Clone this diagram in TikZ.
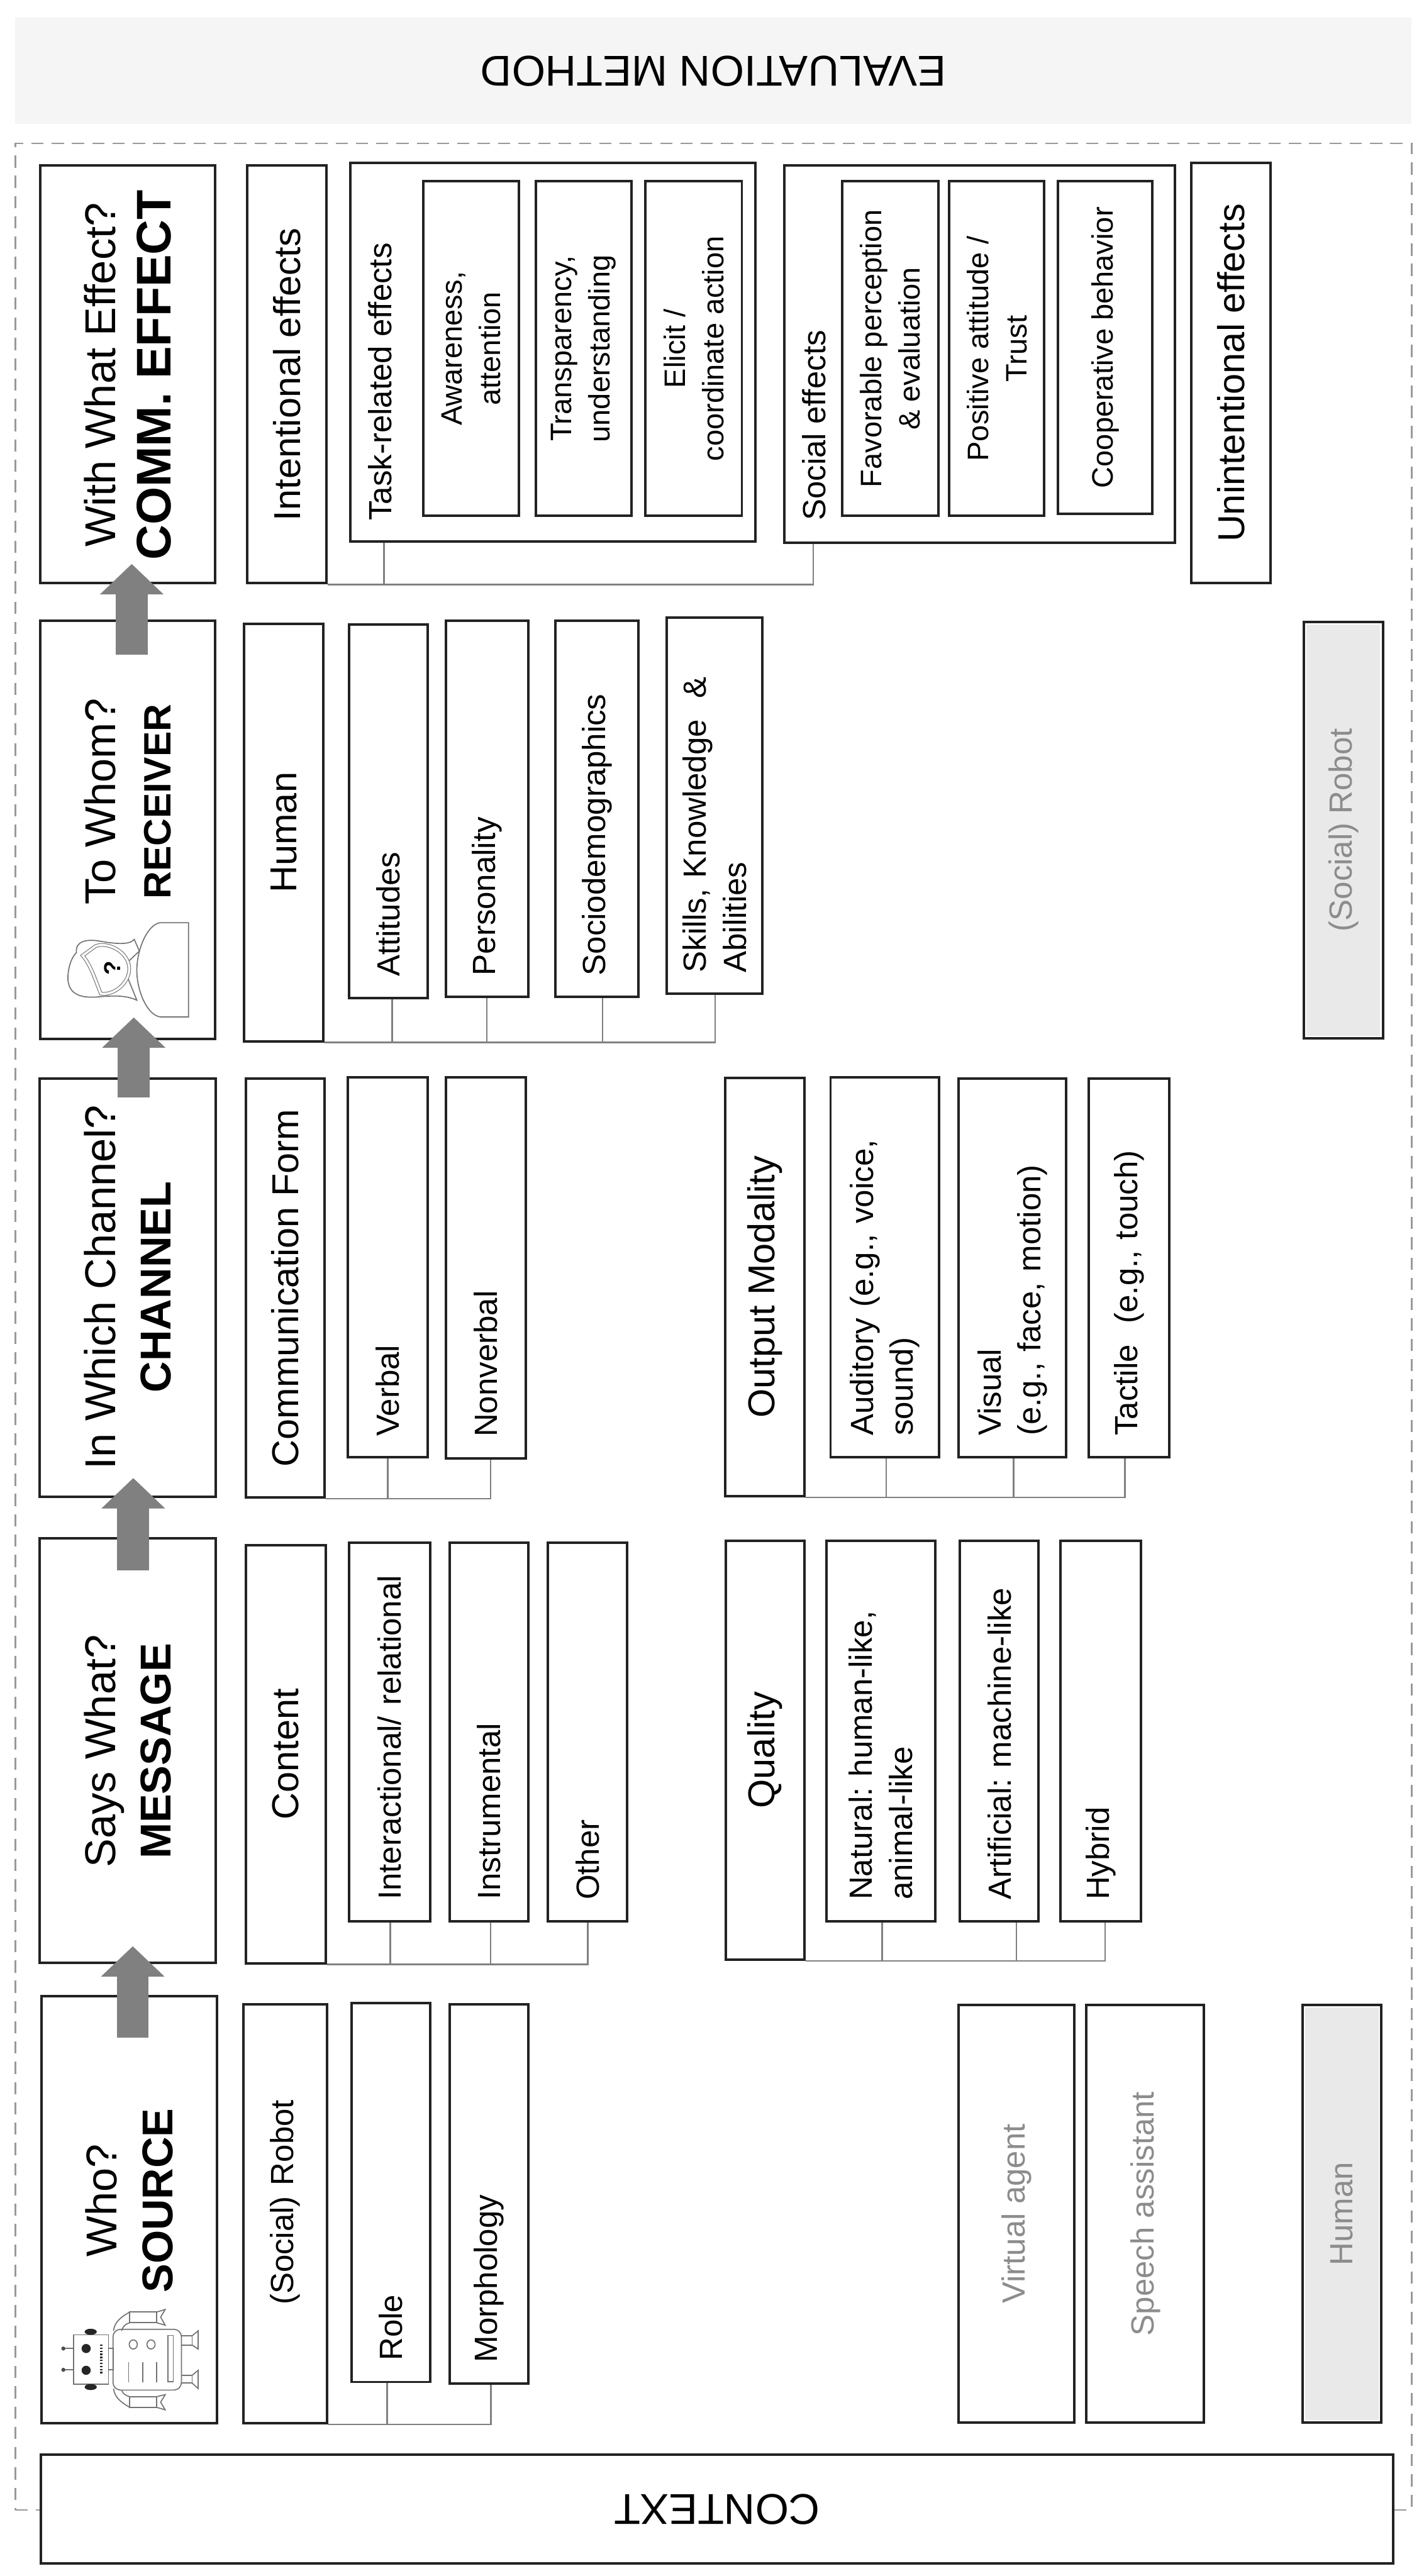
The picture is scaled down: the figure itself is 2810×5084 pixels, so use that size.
\documentclass[tikz,border=0pt]{standalone}
\usepackage{fontspec}
\setmainfont{Liberation Sans}
\frenchspacing
\usetikzlibrary{arrows.meta, calc}
\definecolor{linegray}{HTML}{808080}
\definecolor{dashgray}{HTML}{999999}
\definecolor{bandgray}{HTML}{F5F5F5}
\definecolor{ghostgray}{HTML}{E9E9E9}
\definecolor{ghosttext}{HTML}{8C8C8C}
\definecolor{boxline}{HTML}{222222}

\begin{document}
\begin{tikzpicture}[
    x=0.01cm, y=-0.01cm,
    box/.style={draw=boxline, line width=1.4pt, rotate=90, align=center, inner sep=0pt},
    head/.style 2 args={box, minimum width=#2*0.01cm, minimum height=#1*0.01cm},
    headtxt/.style={rotate=90, align=center, inner sep=0pt, font=\fontsize{24.2}{31.3}\selectfont},
    cat/.style 2 args={head={#1}{#2}, font=\fontsize{21}{25}\selectfont},
    eff/.style 2 args={head={#1}{#2}, font=\fontsize{16.6}{21.5}\selectfont},
    leaf/.style 2 args={box, minimum height=#1*0.01cm, text width=(#2-84)*0.01cm, inner xsep=0.42cm, align=left, font=\fontsize{18}{22.5}\selectfont},
    ghost/.style 2 args={head={#1}{#2}, text=ghosttext, font=\fontsize{18}{22.5}\selectfont},
    ghostfill/.style 2 args={ghost={#1}{#2}, fill=ghostgray, path picture={\draw[white, line width=3pt] (path picture bounding box.south west) rectangle (path picture bounding box.north east);}},
    lbl/.style={rotate=90, anchor=west, inner sep=0pt, font=\fontsize{18}{22.5}\selectfont},
    band/.style={rotate=180, font=\fontsize{24.2}{29}\selectfont},
    link/.style={draw=linegray, line width=0.85pt},
    blockarrow/.style={-{Triangle[length=0.6cm, width=1.22cm]}, draw=linegray, fill=linegray, line width=0.63cm},
    iconln/.style={draw=black!55, line width=0.6pt},
]
\useasboundingbox (0,0) rectangle (2810,5084);

% Outer frame and the two bands
\node[draw=dashgray, line width=0.85pt, dash pattern=on 0.24cm off 0.16cm, minimum width=27.54cm, minimum height=46.68cm, inner sep=0pt] (frame) at (1408,2618) {};
\node[band, fill=bandgray, minimum width=27.54cm, minimum height=2.1cm] (evalmethod) at (1408,140) {EVALUATION METHOD};
\node[band, draw=boxline, line width=1.4pt, fill=white, minimum width=26.68cm, minimum height=2.15cm] (context) at (1415,4952) {CONTEXT};

% Main chain
\node[head={346}{824}] (effect) at (252,739) {};
\node[headtxt] (effect_t) at (252,740) {With What Effect?\\{\bfseries\fontsize{27.3}{31.3}\selectfont COMM. EFFECT}};
\node[head={346}{826}] (receiver) at (252,1638) {};
\node[headtxt] (receiver_t) at (252,1582) {To Whom?\\{\bfseries\fontsize{21.4}{31.3}\selectfont RECEIVER}};
\node[head={347}{825}] (channel) at (252,2541) {};
\node[headtxt] (channel_t) at (252,2540) {In Which Channel?\\{\bfseries CHANNEL}};
\node[head={347}{837}] (message) at (252,3455) {};
\node[headtxt] (message_t) at (252,3456) {Says What?\\{\bfseries MESSAGE}};
\node[head={347}{843}] (source) at (255,4361) {};
\node[headtxt] (source_t) at (255,4343) {Who?\\{\bfseries SOURCE}};

% Comm. effect
\node[cat={157}{824}] (intent) at (566,739) {Intentional effects};
\node[box, minimum width=7.46cm, minimum height=7.98cm] (task) at (1091,695) {};
\node[lbl] (task_l) at (750,1028) {Task-related effects};
\node[eff={189}{660}] (aware) at (930,688) {Awareness,\\attention};
\node[eff={188}{660}] (transp) at (1152,688) {Transparency,\\understanding};
\node[eff={190}{660}] (elicit) at (1369,688) {Elicit /\\coordinate action};
\node[box, minimum width=7.44cm, minimum height=7.71cm] (social) at (1933,699) {};
\node[lbl] (social_l) at (1607,1028) {Social effects};
\node[eff={189}{660}] (favor) at (1757,688) {Favorable perception\\\& evaluation};
\node[eff={187}{660}] (posit) at (1967,688) {Positive attitude /\\Trust};
\node[eff={186}{657}] (coop) at (2181,686) {Cooperative behavior};
\node[cat={157}{829}] (unintent) at (2429,736) {Unintentional effects};

% Receiver
\node[cat={156}{824}] (human_r) at (560,1643) {Human};
\node[leaf={155}{737}] (attitudes) at (766,1601) {Attitudes};
\node[leaf={163}{743}] (personality) at (961,1596) {Personality};
\node[leaf={163}{743}] (socio) at (1178,1596) {Sociodemographics};
\node[leaf={189}{743}] (skills) at (1410,1590) {Skills, Knowledge \ \&\\Abilities};
\node[ghostfill={156}{822}] (robot_r) at (2651,1638) {(Social) Robot};

% Channel
\node[cat={156}{826}] (comform) at (563,2542) {Communication Form};
\node[leaf={158}{750}] (verbal) at (765,2501) {Verbal};
\node[leaf={158}{752}] (nonverbal) at (959,2502) {Nonverbal};
\node[cat={156}{825}] (output) at (1509,2540) {Output Modality};
\node[leaf={214}{749}] (auditory) at (1746,2501) {Auditory (e.g., voice,\\sound)};
\node[leaf={212}{747}] (visual) at (1998,2502) {Visual\\(e.g., face, motion)};
\node[leaf={159}{747}] (tactile) at (2228,2502) {Tactile \ (e.g., touch)};

% Message
\node[cat={158}{825}] (content) at (564,3462) {Content};
\node[leaf={160}{747}] (interact) at (769,3418) {Interactional/ relational};
\node[leaf={156}{747}] (instrum) at (965,3418) {Instrumental};
\node[leaf={156}{747}] (other) at (1159,3418) {Other};
\node[cat={156}{827}] (quality) at (1510,3454) {Quality};
\node[leaf={215}{751}] (natural) at (1738,3416) {Natural: human-like,\\animal-like};
\node[leaf={155}{751}] (artificial) at (1972,3416) {Artificial: machine-like};
\node[leaf={158}{751}] (hybrid) at (2172,3416) {Hybrid};

% Source
\node[leaf={166}{826}] (robot_s) at (563,4369) {\hspace*{1.91cm}(Social) Robot};
\node[leaf={155}{748}] (role) at (771,4327) {Role};
\node[leaf={156}{749}] (morph) at (965,4330) {Morphology};
\node[ghost={228}{824}] (virtual) at (2006,4369) {Virtual agent};
\node[ghost={232}{824}] (speech) at (2260,4369) {Speech assistant};
\node[ghostfill={156}{824}] (human_s) at (2648,4369) {Human};

% Links from a category to its items
\foreach \trunk/\item/\dx in {intent/task/-333, intent/social/-328,
    human_r/attitudes/8, human_r/personality/0, human_r/socio/11, human_r/skills/1,
    comform/verbal/0, comform/nonverbal/9,
    output/auditory/3, output/visual/2, output/tactile/-8,
    content/interact/1, content/instrum/3, content/other/1,
    quality/natural/3, quality/artificial/34, quality/hybrid/9,
    robot_s/role/-7, robot_s/morph/4} {
    \draw[link] (\trunk.south west) -| ([xshift=\dx*0.01cm]\item.west);
}

% Robot icon
\draw[iconln] (145,4608) rectangle (214,4705);
\draw[iconln] (214,4635) rectangle (223,4677);
\draw[iconln, rounded corners=0.15cm] (223,4597) rectangle (358,4717);
\fill[black!85] (179,4602) ellipse [x radius=0.12cm, y radius=0.06cm];
\fill[black!85] (179,4711) ellipse [x radius=0.12cm, y radius=0.06cm];
\fill[black!85] (170,4635) circle [radius=0.09cm];
\fill[black!85] (170,4678) circle [radius=0.09cm];
\draw[iconln] (145,4635) -- (125,4635);
\draw[iconln] (145,4677) -- (125,4677);
\fill[black!70] (125,4635) circle [radius=0.04cm];
\fill[black!70] (125,4677) circle [radius=0.04cm];
\draw[black!85, line width=1.6pt, dash pattern=on 0.03cm off 0.03cm] (200,4627) -- (200,4685);
\draw[iconln] (263,4627) ellipse [x radius=0.08cm, y radius=0.09cm];
\draw[iconln] (298,4627) ellipse [x radius=0.08cm, y radius=0.09cm];
\foreach \xbar in {254,282,309} {
    \draw[iconln] (\xbar,4662) -- (\xbar,4702);
}
\draw[iconln] (331,4609) rectangle (342,4700);
\foreach \ya/\yb/\yc/\yd in {4610/4628/4600/4636, 4688/4703/4678/4714} {
    \draw[iconln] (358,\ya) rectangle (379,\yb);
    \draw[iconln] (379,\ya) -- (391,\yc) -- (391,\yd) -- (379,\yb);
}
\draw[iconln] (256,4563) rectangle (309,4584);
\draw[iconln] (309,4563) -- (326,4558) -- (317,4573) -- (326,4589) -- (309,4584);
\draw[iconln] (224,4600) .. controls (226,4582) and (240,4572) .. (256,4563);
\draw[iconln] (240,4600) .. controls (242,4592) and (248,4586) .. (256,4584);
\draw[iconln] (256,4730) rectangle (309,4751);
\draw[iconln] (309,4730) -- (326,4726) -- (317,4741) -- (326,4756) -- (309,4751);
\draw[iconln] (224,4714) .. controls (226,4732) and (240,4742) .. (256,4751);
\draw[iconln] (240,4717) .. controls (242,4724) and (248,4728) .. (256,4730);

% Person icon
\draw[iconln] (372,1821) -- (316,1821) .. controls (290,1825) and (270,1875) .. (270,1915) .. controls (270,1955) and (290,2003) .. (316,2007) -- (372,2007) -- cycle;
\draw[iconln] (255,1896) -- (275,1877) -- (265,1854) .. controls (255,1866) and (225,1862) .. (200,1858) .. controls (170,1852) and (148,1858) .. (151,1880) .. controls (135,1895) and (132,1930) .. (135,1940) .. controls (140,1965) and (165,1968) .. (180,1968) .. controls (205,1968) and (240,1960) .. (270,1974) -- (253,1932);
\draw[iconln, line width=0.4pt, double=white, double distance=1.2pt] (163,1886) -- (189,1867) .. controls (215,1858) and (255,1880) .. (255,1912) .. controls (255,1940) and (225,1965) .. (199,1961) .. controls (190,1940) and (180,1905) .. (163,1886) -- cycle;
\node[rotate=90, inner sep=0pt, font=\bfseries\fontsize{13}{15}\selectfont] (quest) at (222,1911) {?};

% Arrows between the boxes
\foreach \i/\xa/\ya/\yb in {1/262/4021/3841, 2/263/3099/2917, 3/264/2166/2008, 4/260/1292/1113} {
    \coordinate (from_\i) at (\xa,\ya);
    \coordinate (to_\i) at (\xa,\yb);
    \draw[blockarrow] (from_\i) -- (to_\i);
}

\end{tikzpicture}
\end{document}
